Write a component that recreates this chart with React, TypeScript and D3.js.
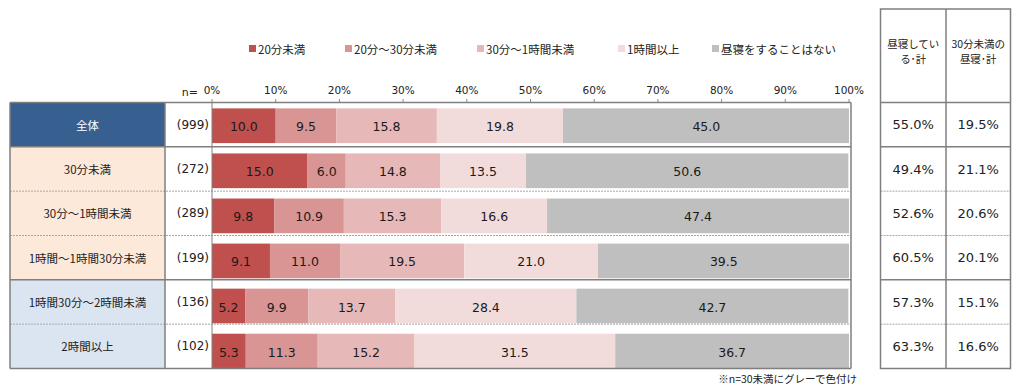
import React from "react";
import * as d3 from "d3";

const categories = ["全体", "30分未満", "30分～1時間未満", "1時間～1時間30分未満", "1時間30分～2時間未満", "2時間以上"];
const sampleSizes = ["(999)", "(272)", "(289)", "(199)", "(136)", "(102)"];
const seriesNames = ["20分未満", "20分～30分未満", "30分～1時間未満", "1時間以上", "昼寝をすることはない"];
const s1 = [10.0, 15.0, 9.8, 9.1, 5.2, 5.3];
const s2 = [9.5, 6.0, 10.9, 11.0, 9.9, 11.3];
const s3 = [15.8, 14.8, 15.3, 19.5, 13.7, 15.2];
const s4 = [19.8, 13.5, 16.6, 21.0, 28.4, 31.5];
const s5 = [45.0, 50.6, 47.4, 39.5, 42.7, 36.7];
const napTotal = ["55.0%", "49.4%", "52.6%", "60.5%", "57.3%", "63.3%"];
const shortNapTotal = ["19.5%", "21.1%", "20.6%", "20.1%", "15.1%", "16.6%"];
const tickValues = [0, 10, 20, 30, 40, 50, 60, 70, 80, 90, 100];
const headerCol1 = ["昼寝してい", "る･計"];
const headerCol2 = ["30分未満の", "昼寝･計"];
const footnote = "※n=30未満にグレーで色付け";

const colors = ["#c0504d", "#d99594", "#e6b9b8", "#f2dcdb", "#bfbfbf"];
const rowFills = ["#375f8f", "#fde9d9", "#fde9d9", "#fde9d9", "#dbe5f1", "#dbe5f1"];
const legendX = [249, 345, 477, 618, 712];
// separator style between row i and i+1
const sepDashed = [false, true, true, false, true];

const FONT = "'DejaVu Sans', Verdana, 'Noto Sans CJK JP', sans-serif";
const JFONT = "'Noto Sans CJK JP', 'DejaVu Sans', sans-serif";

export default function App() {
  const series = [s1, s2, s3, s4, s5];
  const x = d3.scaleLinear().domain([0, 100]).range([212, 849]);
  const rowScale = d3.scaleBand<string>().domain(categories).range([102.5, 368.5]).padding(0);
  const barScale = d3
    .scaleBand<string>()
    .domain(categories)
    .range([103.2, 373.6])
    .paddingInner(0.23)
    .paddingOuter(0.115);
  const stackData = categories.map((c, i) => {
    const o: any = { cat: c };
    series.forEach((s, k) => (o["k" + k] = s[i]));
    return o;
  });
  const stack = d3.stack<any>().keys(series.map((_, k) => "k" + k));
  const stacked = stack(stackData);
  const rh = rowScale.bandwidth();
  const tableL = 10, labelR = 165, nR = 212, plotR = 851;
  const rtL = 880.5, rtM = 946, rtR = 1010.5, rtTop = 9;
  const top = 102.5, bottom = 368.5;

  return (
    <svg
      width={1020}
      height={390}
      style={{ position: "absolute", left: 0, top: 0, background: "#fff" }}
    >
      <rect x={0} y={0} width={1020} height={390} fill="#fff" />
      {/* legend */}
      {seriesNames.map((n, k) => (
        <g key={n}>
          <rect x={legendX[k]} y={45} width={7} height={7} fill={colors[k]} />
          <text x={legendX[k] + 9} y={48.5} dominantBaseline="central" fontFamily={JFONT} fontSize={11.5} fill="#222">
            {n}
          </text>
        </g>
      ))}
      {/* axis labels */}
      <text x={198} y={92} textAnchor="end" dominantBaseline="central" fontFamily={FONT} fontSize={11} fill="#222">
        n=
      </text>
      {tickValues.map((t) => (
        <g key={t}>
          <line x1={x(t)} x2={x(t)} y1={99} y2={top} stroke="#888" />
          <text x={x(t)} y={89.5} textAnchor="middle" dominantBaseline="central" fontFamily={FONT} fontSize={10.5} fill="#222">
            {t + "%"}
          </text>
        </g>
      ))}
      {/* left table fills */}
      {categories.map((c, i) => (
        <rect key={c} x={tableL} y={rowScale(c)!} width={labelR - tableL} height={rh} fill={rowFills[i]} />
      ))}
      {/* bars */}
      {stacked.map((layer, k) =>
        layer.map((d, i) => (
          <rect
            key={k + "-" + i}
            x={x(d[0])}
            y={barScale(categories[i])!}
            width={x(Math.min(d[1], 100)) - x(d[0])}
            height={barScale.bandwidth()}
            fill={colors[k]}
          />
        ))
      )}
      {stacked.map((layer, k) =>
        layer.map((d, i) => (
          <text
            key={"t" + k + "-" + i}
            x={(x(d[0]) + x(d[1])) / 2}
            y={barScale(categories[i])! + barScale.bandwidth() / 2 + 1}
            textAnchor="middle"
            dominantBaseline="central"
            fontFamily={FONT}
            fontSize={12.5}
            fill="#1a1a1a"
          >
            {series[k][i].toFixed(1)}
          </text>
        ))
      )}
      {/* row labels */}
      {categories.map((c, i) => (
        <g key={"l" + c}>
          <text
            x={(tableL + labelR) / 2}
            y={rowScale(c)! + rh / 2}
            textAnchor="middle"
            dominantBaseline="central"
            fontFamily={JFONT}
            fontSize={11.5}
            fill={i === 0 ? "#fff" : "#222"}
          >
            {c}
          </text>
          <text
            x={209}
            y={rowScale(c)! + rh / 2}
            textAnchor="end"
            dominantBaseline="central"
            fontFamily={FONT}
            fontSize={12}
            fill="#222"
          >
            {sampleSizes[i]}
          </text>
          <text
            x={(rtL + rtM) / 2}
            y={rowScale(c)! + rh / 2}
            textAnchor="middle"
            dominantBaseline="central"
            fontFamily={FONT}
            fontSize={13}
            fill="#222"
          >
            {napTotal[i]}
          </text>
          <text
            x={(rtM + rtR) / 2}
            y={rowScale(c)! + rh / 2}
            textAnchor="middle"
            dominantBaseline="central"
            fontFamily={FONT}
            fontSize={13}
            fill="#222"
          >
            {shortNapTotal[i]}
          </text>
        </g>
      ))}
      {/* separators */}
      {categories.slice(1).map((c, i) => (
        <g key={"s" + c}>
          <line
            x1={tableL}
            x2={plotR}
            y1={rowScale(c)!}
            y2={rowScale(c)!}
            stroke={sepDashed[i] ? "#a6a6a6" : "#7f7f7f"}
            strokeWidth={sepDashed[i] ? 1 : 1.5}
            strokeDasharray={sepDashed[i] ? "2,1" : undefined}
          />
          <line
            x1={rtL}
            x2={rtR}
            y1={rowScale(c)!}
            y2={rowScale(c)!}
            stroke={sepDashed[i] ? "#a6a6a6" : "#7f7f7f"}
            strokeWidth={sepDashed[i] ? 1 : 1.5}
            strokeDasharray={sepDashed[i] ? "2,1" : undefined}
          />
        </g>
      ))}
      {/* frames */}
      <line x1={tableL} x2={plotR} y1={top} y2={top} stroke="#7f7f7f" strokeWidth={1.5} />
      <line x1={tableL} x2={plotR} y1={bottom} y2={bottom} stroke="#7f7f7f" strokeWidth={1.5} />
      <line x1={tableL} x2={tableL} y1={top} y2={bottom} stroke="#7f7f7f" strokeWidth={1.5} />
      <line x1={labelR} x2={labelR} y1={top} y2={bottom} stroke="#7f7f7f" strokeWidth={1.5} />
      <line x1={nR} x2={nR} y1={top} y2={bottom} stroke="#7f7f7f" strokeWidth={1} />
      <line x1={plotR} x2={plotR} y1={top} y2={bottom} stroke="#7f7f7f" strokeWidth={1.5} />
      {/* right table */}
      <rect x={rtL} y={rtTop} width={rtR - rtL} height={bottom - rtTop} fill="none" stroke="#7f7f7f" strokeWidth={1.5} />
      <line x1={rtM} x2={rtM} y1={rtTop} y2={bottom} stroke="#7f7f7f" strokeWidth={1.5} />
      <line x1={rtL} x2={rtR} y1={top} y2={top} stroke="#7f7f7f" strokeWidth={1.5} />
      {headerCol1.map((t, j) => (
        <text key={"h1" + j} x={(rtL + rtM) / 2} y={43 + j * 15} textAnchor="middle" dominantBaseline="central" fontFamily={JFONT} fontSize={10.5} fill="#222">
          {t}
        </text>
      ))}
      {headerCol2.map((t, j) => (
        <text key={"h2" + j} x={(rtM + rtR) / 2} y={43 + j * 15} textAnchor="middle" dominantBaseline="central" fontFamily={JFONT} fontSize={10.5} fill="#222">
          {t}
        </text>
      ))}
      <text x={857} y={378} textAnchor="end" dominantBaseline="central" fontFamily={JFONT} fontSize={10.5} fill="#222">
        {footnote}
      </text>
    </svg>
  );
}
